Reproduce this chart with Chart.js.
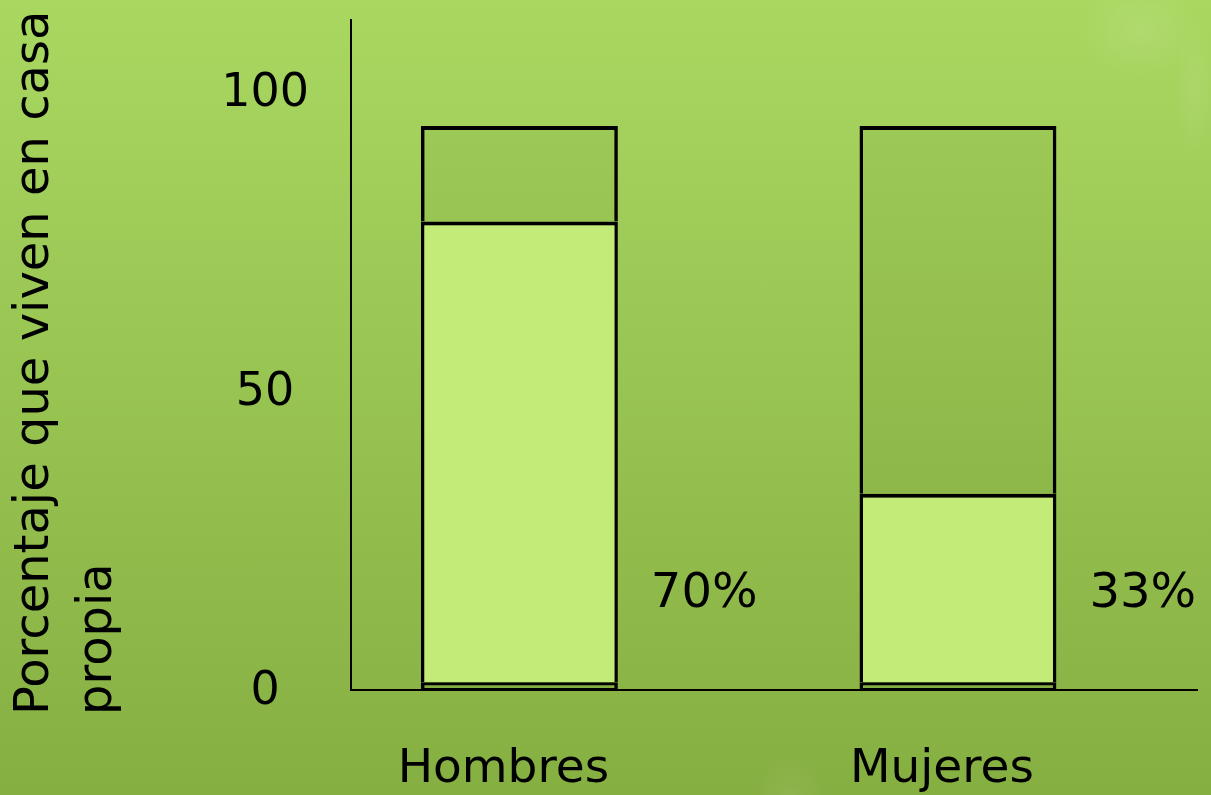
<!DOCTYPE html>
<html><head><meta charset="utf-8">
<script src="https://cdn.jsdelivr.net/npm/chart.js@4.4.1/dist/chart.umd.min.js"></script>
<style>
html,body{margin:0;padding:0;width:1211px;height:795px;overflow:hidden;}
body{background:
 radial-gradient(ellipse 60px 50px at 1140px 30px, rgba(255,255,255,0.09), rgba(255,255,255,0) 100%),
 radial-gradient(ellipse 22px 70px at 1195px 90px, rgba(255,255,255,0.08), rgba(255,255,255,0) 100%),
 radial-gradient(ellipse 35px 45px at 790px 800px, rgba(255,255,255,0.07), rgba(255,255,255,0) 100%),
 linear-gradient(#a9d861, #86af42);}
#wrap{position:absolute;left:0;top:0;width:1211px;height:795px;}
</style></head>
<body><div id="wrap"><canvas id="c"></canvas></div>
<script>
const categories = ['Hombres', 'Mujeres'];
const baseValues = [1.3, 1.3];
const ownHomeValues = [77, 31.5];
const restValues = [16, 61.5];
const pctLabels = ['70%', '33%'];
const yTicks = [0, 50, 100];
const yTitle = ['Porcentaje que viven en casa', 'propia'];

const FONT = 'DejaVu Sans';
const segFill = 'rgba(70,100,20,0.07)';
const sideBorder = {top: 4, left: 3.5, right: 3.5, bottom: 0};
const baseBorder = {top: 3, left: 3.5, right: 3.5, bottom: 2};

const annotations = {
  id: 'annotations',
  afterDatasetsDraw(chart) {
    const ctx = chart.ctx;
    const y = chart.scales.y;
    const meta = chart.getDatasetMeta(1);
    ctx.save();
    ctx.fillStyle = '#000';
    ctx.font = '48px "' + FONT + '"';
    ctx.textBaseline = 'middle';
    ctx.textAlign = 'left';
    meta.data.forEach((bar, i) => {
      ctx.fillText(pctLabels[i], bar.x + bar.width / 2 + 33, y.getPixelForValue(16));
    });
    // rotated y-axis title
    ctx.font = '48px "' + FONT + '"';
    ctx.translate(0, chart.chartArea.bottom + 25);
    ctx.rotate(-Math.PI / 2);
    ctx.textAlign = 'left';
    ctx.textBaseline = 'middle';
    yTitle.forEach((line, i) => ctx.fillText(line, 0, 36 + i * 63));
    ctx.restore();
  }
};

new Chart(document.getElementById('c'), {
  type: 'bar',
  data: {
    datasets: [
      {data: baseValues.map((v, i) => ({x: i + 1, y: v})), backgroundColor: segFill,
       borderColor: '#000', borderWidth: baseBorder, borderSkipped: false},
      {data: ownHomeValues.map((v, i) => ({x: i + 1, y: v})), backgroundColor: '#c3eb77',
       borderColor: '#000', borderWidth: sideBorder, borderSkipped: false},
      {data: restValues.map((v, i) => ({x: i + 1, y: v})), backgroundColor: segFill,
       borderColor: '#000', borderWidth: sideBorder, borderSkipped: false}
    ]
  },
  options: {
    responsive: true, maintainAspectRatio: false, animation: false,
    categoryPercentage: 1, barPercentage: 0.449,
    layout: {padding: {left: 222, right: 14, top: 20, bottom: 0}},
    plugins: {legend: {display: false}, tooltip: {enabled: false}},
    scales: {
      x: {
        type: 'linear', stacked: true, min: 0.616, max: 2.545, offset: false,
        grid: {display: false, drawTicks: false},
        border: {display: true, color: '#000', width: 2},
        afterBuildTicks: s => { s.ticks = categories.map((c, i) => ({value: i + 1})); },
        afterFit: s => { s.height = 105; s.paddingLeft = 0; s.paddingRight = 0; },
        ticks: {
          callback: v => categories[v - 1] ?? '',
          font: {family: FONT, size: 47}, color: '#000',
          padding: 52, labelOffset: -16, maxRotation: 0, autoSkip: false
        }
      },
      y: {
        stacked: true, min: 0, max: 112,
        grid: {display: false, drawTicks: false},
        border: {display: true, color: '#000', width: 2},
        afterBuildTicks: s => { s.ticks = yTicks.map(v => ({value: v})); },
        afterFit: s => { s.width = 129; s.paddingTop = 0; s.paddingBottom = 0; },
        ticks: {crossAlign: 'center', padding: 42, labelOffset: 2, font: {family: FONT, size: 46}, color: '#000'}
      }
    }
  },
  plugins: [annotations]
});
</script>
</body></html>
